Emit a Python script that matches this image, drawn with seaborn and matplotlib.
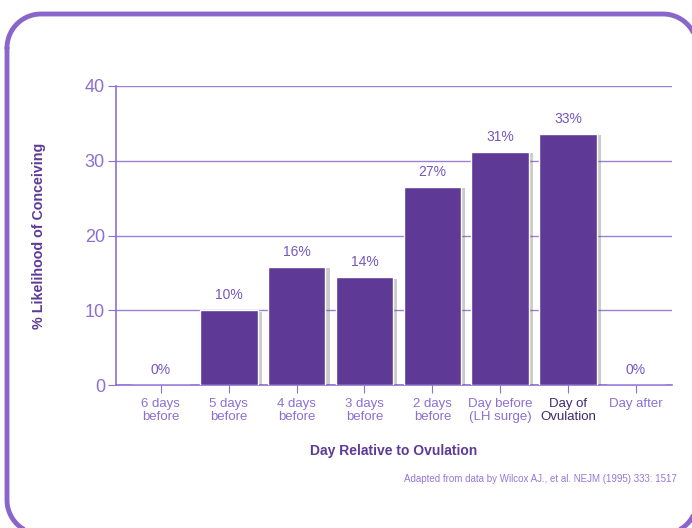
import matplotlib
matplotlib.use("Agg")
import matplotlib.pyplot as plt
import matplotlib.patheffects as pe
import numpy as np
import pandas as pd
import seaborn as sns

# Chance of conception by day relative to ovulation (Wilcox et al. 1995)
days = ['6 days\nbefore', '5 days\nbefore', '4 days\nbefore', '3 days\nbefore',
        '2 days\nbefore', 'Day before\n(LH surge)', 'Day of\nOvulation', 'Day after']
likelihood = [0, 10, 15.8, 14.4, 26.5, 31.2, 33.6, 0]
value_labels = ['0%', '10%', '16%', '14%', '27%', '31%', '33%', '0%']
y_ticks = [0, 10, 20, 30, 40]

df = pd.DataFrame({'Day': days, 'Likelihood': likelihood})

bar_color = '#5E3A96'
light = '#8C6FD3'
dark = '#5E3A96'

sns.set_style('white')
plt.rcParams['font.family'] = ['Liberation Sans', 'DejaVu Sans']

fig = plt.figure(figsize=(6.92, 5.28), dpi=100)

# rounded purple frame, drawn in pixel units on a background axes
bg = fig.add_axes([0, 0, 1, 1], zorder=-1)
bg.set_xlim(0, 692)
bg.set_ylim(528, 0)
bg.axis('off')
x0, x1, y0, y1, r = 7, 697, 14, 534, 34
t = np.linspace(0, np.pi / 2, 30)
xs = np.concatenate([x0 + r - r * np.cos(t), x1 - r + r * np.sin(t),
                     x1 - r + r * np.cos(t), x0 + r - r * np.sin(t), [x0]])
ys = np.concatenate([y0 + r - r * np.sin(t), y0 + r - r * np.cos(t),
                     y1 - r + r * np.sin(t), y1 - r + r * np.cos(t), [y0 + r]])
bg.plot(xs, ys, color='#8A66CC', linewidth=3.5, clip_on=True, solid_capstyle='round')

ax = fig.add_axes([116 / 692, 1 - 385 / 528, 556 / 692, 299 / 528])
ax.patch.set_alpha(0)

sns.barplot(data=df, x='Day', y='Likelihood', color=bar_color, width=0.85,
            saturation=1, ax=ax, zorder=3)
for p in ax.patches:
    p.set_path_effects([pe.SimplePatchShadow(offset=(3, -1), shadow_rgbFace='#555555', alpha=0.3),
                        pe.Normal()])

# value labels above bars
for i, (v, lab) in enumerate(zip(likelihood, value_labels)):
    ax.text(i, v + 1.1, lab, ha='center', va='bottom', fontsize=10, color='#7656C2')

ax.set_xlim(-0.66, 7.53)
ax.set_ylim(0, 40)
ax.set_yticks(y_ticks)
ax.yaxis.grid(True, color='#9B80DA', linewidth=1, zorder=0)
ax.set_axisbelow(True)

for s in ['top', 'right']:
    ax.spines[s].set_visible(False)
for s in ['left', 'bottom']:
    ax.spines[s].set_color(light)
    ax.spines[s].set_linewidth(1.2)

ax.tick_params(axis='y', length=6, color=light, labelcolor=light, labelsize=13, direction='out', pad=2)
ax.tick_params(axis='x', length=6, color=light, labelcolor=light, labelsize=9.5, direction='out', pad=3)
ax.tick_params(left=True, bottom=True)
for lbl in ax.get_xticklabels():
    lbl.set_linespacing(1.15)
    if lbl.get_text().startswith('Day of'):
        lbl.set_color('#3E2A70')

ax.set_xlabel('Day Relative to Ovulation', fontsize=10, fontweight='bold', color=dark, labelpad=15)
ax.set_ylabel('% Likelihood of Conceiving', fontsize=10.3, fontweight='bold', color=dark, labelpad=28)

fig.text(677 / 692, 1 - 479 / 528, 'Adapted from data by Wilcox AJ., et al. NEJM (1995) 333: 1517',
         ha='right', va='center', fontsize=7, color='#9478D8')

fig.savefig('out.png', dpi=100)
